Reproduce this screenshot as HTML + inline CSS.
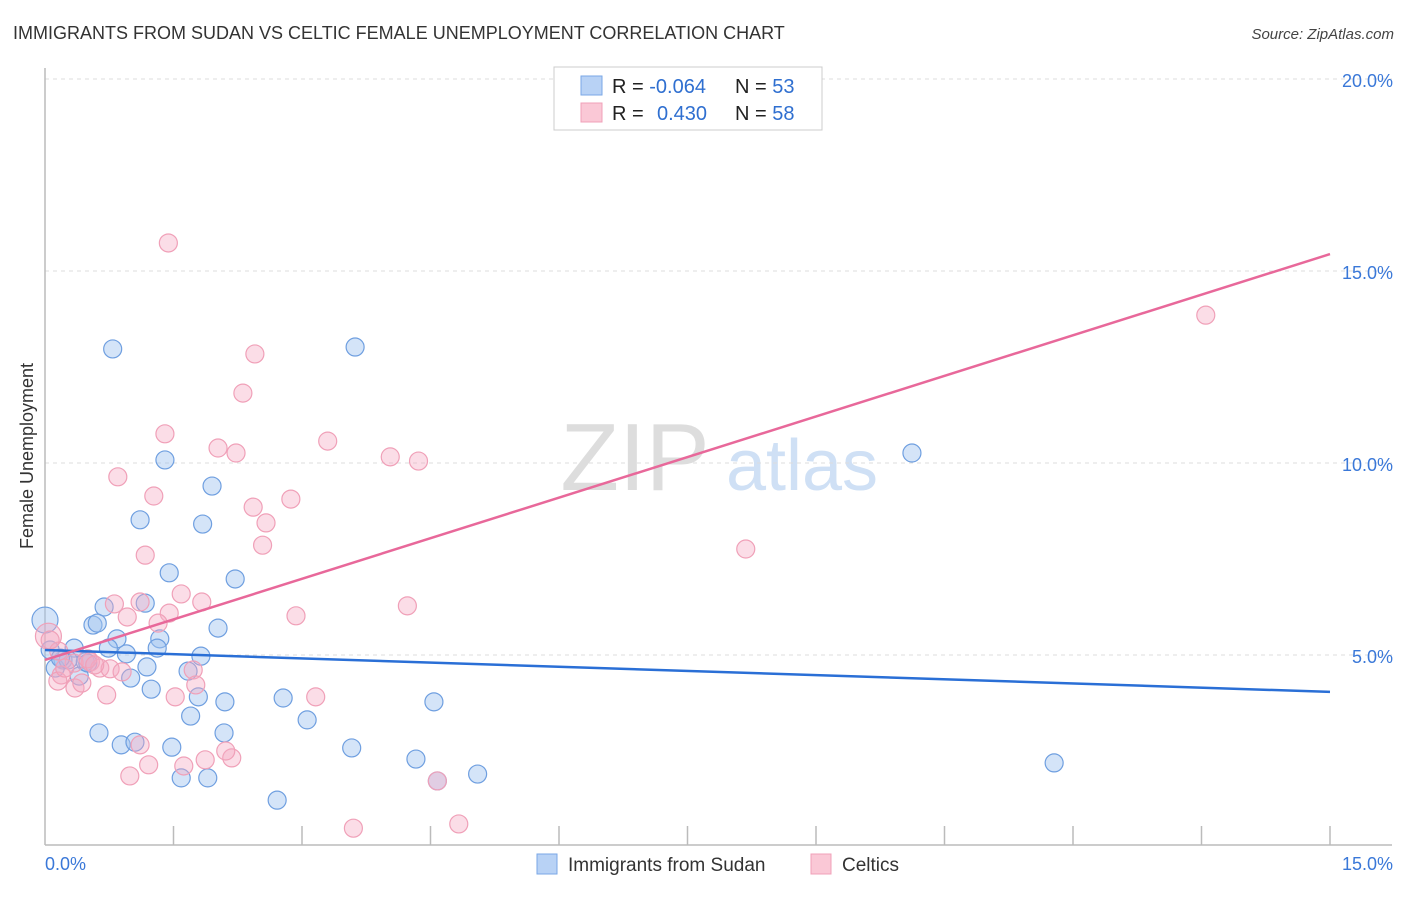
<!DOCTYPE html>
<html><head><meta charset="utf-8"><style>
body{margin:0;background:#fff;font-family:"Liberation Sans",sans-serif;}
svg text{font-family:"Liberation Sans",sans-serif;}
</style></head><body>
<svg id="chart" width="1406" height="892" viewBox="0 0 1406 892" xmlns="http://www.w3.org/2000/svg">
<text x="13" y="39" font-size="18" fill="#333">IMMIGRANTS FROM SUDAN VS CELTIC FEMALE UNEMPLOYMENT CORRELATION CHART</text>
<text x="1394" y="39" font-size="15" fill="#444" text-anchor="end" font-style="italic">Source: ZipAtlas.com</text>
<text transform="translate(33,456) rotate(-90)" font-size="18" fill="#333" text-anchor="middle">Female Unemployment</text>
<g>
<text x="635" y="490" font-size="96" fill="#ddd" text-anchor="middle" font-family="Liberation Serif,serif">ZIP</text>
<text x="802" y="490" font-size="72" fill="#cfe0f5" text-anchor="middle">atlas</text>
</g>
<g id="grid"></g><g id="axes"></g><g id="pts"></g><g id="trend"></g>
<g>
<rect x="554" y="67" width="268" height="63" fill="#fff" stroke="#ccc"/>
<rect x="581" y="76" width="21" height="19" fill="#b8d2f5" stroke="#7aa7e6"/>
<rect x="581" y="103" width="21" height="19" fill="#fac8d6" stroke="#f0a0b8"/>
<text x="612" y="93" font-size="20" fill="#222">R = <tspan fill="#2f6fd0">-0.064</tspan></text>
<text x="735" y="93" font-size="20" fill="#222">N = <tspan fill="#2f6fd0">53</tspan></text>
<text x="612" y="120" font-size="20" fill="#222">R = <tspan fill="#2f6fd0" x="657">0.430</tspan></text>
<text x="735" y="120" font-size="20" fill="#222">N = <tspan fill="#2f6fd0">58</tspan></text>
</g>
<g>
<rect x="537" y="854" width="20" height="20" fill="#b8d2f5" stroke="#7aa7e6"/>
<text x="568" y="871" font-size="19" fill="#333">Immigrants from Sudan</text>
<rect x="811" y="854" width="20" height="20" fill="#fac8d6" stroke="#f0a0b8"/>
<text x="842" y="871" font-size="19" fill="#333">Celtics</text>
</g>
</svg>
<script>
const yTicks=[5,10,15,20];
const yTickLabels=["5.0%","10.0%","15.0%","20.0%"];
const xTickCount=10;
const blueX=[0.79,3.62,1.40,1.95,1.11,1.84,10.12,1.45,2.22,0.69,1.17,0.56,0.61,2.02,0.84,1.34,0.74,1.31,0.95,1.82,0.34,0.21,0.47,1.19,1.67,1.00,0.40,1.24,1.79,2.10,2.78,4.54,1.70,3.06,0.63,2.09,0.89,1.05,1.48,3.58,4.33,1.59,1.90,4.58,5.05,11.78,2.71,0.00,0.06,0.12,0.27,0.50,0.18];
const blueY=[12.97,13.02,10.08,9.40,8.52,8.41,10.26,7.14,6.98,6.25,6.35,5.78,5.83,5.70,5.42,5.42,5.18,5.18,5.03,4.97,5.18,4.87,4.82,4.69,4.58,4.40,4.45,4.11,3.91,3.78,3.88,3.78,3.41,3.31,2.97,2.97,2.66,2.73,2.60,2.58,2.29,1.80,1.80,1.72,1.90,2.19,1.22,5.91,5.13,4.66,4.87,4.79,4.92];
const pinkX=[1.44,2.45,2.31,1.40,2.02,2.23,3.30,4.03,4.36,0.85,1.27,2.87,2.43,2.58,2.54,1.17,8.18,13.55,1.59,0.81,1.11,1.45,1.83,4.23,2.93,0.96,1.32,8.17,0.04,0.16,0.53,0.64,0.76,0.90,1.73,0.19,0.15,0.35,0.72,1.52,1.76,3.16,0.43,0.34,1.11,1.87,2.18,1.21,1.62,0.99,2.11,4.58,3.60,4.83,0.50,0.58,0.23,0.06];
const pinkY=[15.73,12.84,11.82,10.76,10.39,10.26,10.57,10.16,10.05,9.64,9.14,9.06,8.85,8.44,7.86,7.60,7.76,13.85,6.59,6.33,6.38,6.09,6.38,6.28,6.02,5.99,5.83,19.45,5.49,5.10,4.82,4.66,4.64,4.56,4.61,4.48,4.32,4.14,3.96,3.91,4.22,3.91,4.27,4.79,2.66,2.27,2.32,2.14,2.11,1.85,2.50,1.72,0.49,0.60,4.90,4.74,4.66,5.39];
const trendX=[0,15];
const blueTrendY=[5.13,4.04];
const pinkTrendY=[4.87,15.44];
const X0=45,X1=1330,Y0=847,PPU=38.4;
const xs=v=>X0+(v/15)*(X1-X0);
const ys=v=>Y0-v*PPU;
const NS="http://www.w3.org/2000/svg";
function mk(tag,attrs,parent){const e=document.createElementNS(NS,tag);for(const k in attrs)e.setAttribute(k,attrs[k]);document.getElementById(parent).appendChild(e);return e;}
yTicks.forEach((t,i)=>{
 const l=mk('line',{x1:X0,x2:1392,y1:ys(t),y2:ys(t),stroke:'#ddd','stroke-dasharray':'4,4'},'grid');
 
 
 const tx=mk('text',{x:1393,y:ys(t)+8,'font-size':18,fill:'#3a78d8','text-anchor':'end'},'grid');
 tx.textContent=yTickLabels[i];
 
 
});
let a=mk('line',{x1:X0,x2:X0,y1:68,y2:845,stroke:'#bbb','stroke-width':1.5},'axes');


a=mk('line',{x1:X0,x2:1392,y1:845,y2:845,stroke:'#bbb','stroke-width':1.5},'axes');


for(let i=1;i<=xTickCount;i++){
 const t=mk('line',{x1:xs(i*1.5),x2:xs(i*1.5),y1:826,y2:845,stroke:'#bbb','stroke-width':1.5},'axes');
 
 
}
let xl=mk('text',{x:45,y:870,'font-size':18,fill:'#3a78d8'},'axes');xl.textContent='0.0%';


xl=mk('text',{x:1393,y:870,'font-size':18,fill:'#3a78d8','text-anchor':'end'},'axes');xl.textContent='15.0%';


blueX.forEach((x,i)=>{
 const c=mk('circle',{cx:xs(x),cy:ys(blueY[i]),r:(x===0?13:9),fill:'rgba(160,195,240,0.45)',stroke:'#6f9fe0','stroke-width':1.2},'pts');
 
 
});
pinkX.forEach((x,i)=>{
 const c=mk('circle',{cx:xs(x),cy:ys(pinkY[i]),r:(i===28?13:9),fill:'rgba(245,170,195,0.4)',stroke:'#f0a0b8','stroke-width':1.2},'pts');
 
 
});
let tl=mk('line',{x1:xs(trendX[0]),y1:ys(blueTrendY[0]),x2:xs(trendX[1]),y2:ys(blueTrendY[1]),stroke:'#2a6fd6','stroke-width':2.5},'trend');


tl=mk('line',{x1:xs(trendX[0]),y1:ys(pinkTrendY[0]),x2:xs(trendX[1]),y2:ys(pinkTrendY[1]),stroke:'#e8689a','stroke-width':2.5},'trend');


</script>
</body></html>
